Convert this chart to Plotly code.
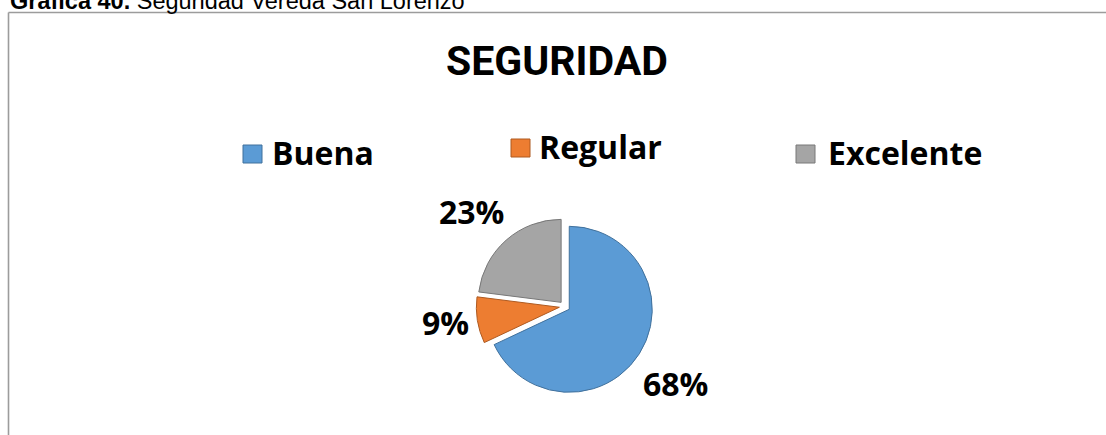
import plotly.graph_objects as go

# Survey results: perceived security
categorias = ["Buena", "Regular", "Excelente"]
porcentajes = [68, 9, 23]

colores = ["#5B9BD5", "#ED7D31", "#A5A5A5"]
bordes = ["#41719C", "#AE5A21", "#787878"]

W, H = 1106, 435


def px(x):
    return x / W


def py(y):
    return 1 - y / H


fig = go.Figure()

fig.add_trace(go.Pie(
    labels=categorias,
    values=porcentajes,
    sort=False,
    direction="clockwise",
    rotation=0,
    pull=[0.065] * len(porcentajes),
    marker=dict(colors=colores, line=dict(color=bordes, width=1)),
    textinfo="none",
    hoverinfo="label+percent",
    showlegend=False,
    domain=dict(x=[px(476.3), px(653.1)], y=[py(394.8), py(218.0)]),
))

annotations = []
shapes = []

# Caption above the chart frame (mostly cropped at the top edge)
annotations.append(dict(
    text="<b>Gráfica 40.</b> Seguridad Vereda San Lorenzo",
    x=px(8), y=py(16), xref="paper", yref="paper",
    xanchor="left", yanchor="bottom", showarrow=False,
    font=dict(family="Liberation Sans, Arial", size=23.5, color="#000000"),
))

# Chart frame (left and top edges)
shapes.append(dict(type="line", xref="paper", yref="paper",
                   x0=px(8.5), y0=py(435), x1=px(8.5), y1=py(12.5),
                   line=dict(color="#9c9c9c", width=1.6)))
shapes.append(dict(type="line", xref="paper", yref="paper",
                   x0=px(8.5), y0=py(12.5), x1=px(1106), y1=py(12.5),
                   line=dict(color="#9c9c9c", width=1.6)))

# Title
annotations.append(dict(
    text="<b>SEGURIDAD</b>",
    x=px(557), y=py(61), xref="paper", yref="paper",
    xanchor="center", yanchor="middle", showarrow=False,
    font=dict(family="Roboto", size=41, color="#000000"),
))

# Legend: swatch left edge, text left edge, vertical centre
leyenda_pos = [(243, 270, 153), (511, 537, 147), (796, 826, 153)]
for cat, col, bd, (sx, tx, cy) in zip(categorias, colores, bordes, leyenda_pos):
    shapes.append(dict(type="rect", xref="paper", yref="paper",
                       x0=px(sx), x1=px(sx + 19), y0=py(cy - 8), y1=py(cy + 10),
                       fillcolor=col, line=dict(color=bd, width=1)))
    annotations.append(dict(
        text=f"<b>{cat}</b>", x=px(tx), y=py(cy - 1), xref="paper", yref="paper",
        xanchor="left", yanchor="middle", showarrow=False,
        font=dict(family="Open Sans", size=32, color="#000000"),
    ))

# Percentage labels next to each slice
etiqueta_pos = [(675, 383.5), (445.5, 322.5), (471.5, 211)]
total = sum(porcentajes)
for v, (lx, ly) in zip(porcentajes, etiqueta_pos):
    annotations.append(dict(
        text=f"<b>{round(100 * v / total)}%</b>", x=px(lx), y=py(ly),
        xref="paper", yref="paper", xanchor="center", yanchor="middle",
        showarrow=False, font=dict(family="Open Sans", size=32, color="#000000"),
    ))

fig.update_layout(
    width=W, height=H,
    margin=dict(l=0, r=0, t=0, b=0),
    paper_bgcolor="#ffffff", plot_bgcolor="#ffffff",
    annotations=annotations, shapes=shapes,
)

fig.write_html("out.html")
